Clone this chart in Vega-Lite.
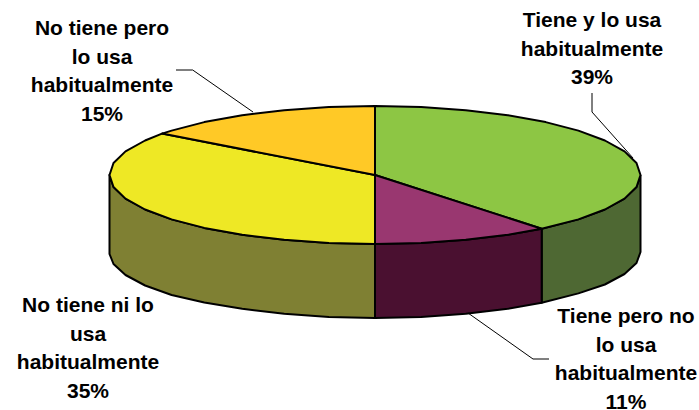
{"$schema":"https://vega.github.io/schema/vega-lite/v6.json","width":699,"height":410,"padding":0,"autosize":{"type":"none"},"background":"white","view":{"stroke":null},
"layer":[
{"data":{"values":[
{"p":"Pared verde","i":0,"x":640.5,"y":175},{"p":"Pared verde","i":1,"x":636.5,"y":187},{"p":"Pared verde","i":2,"x":624.5,"y":198.6},{"p":"Pared verde","i":3,"x":604.9,"y":209.5},{"p":"Pared verde","i":4,"x":578.4,"y":219.4},{"p":"Pared verde","i":5,"x":541.7,"y":228.7},{"p":"Pared verde","i":6,"x":541.7,"y":302.7},{"p":"Pared verde","i":7,"x":578.4,"y":293.4},{"p":"Pared verde","i":8,"x":604.9,"y":284.5},{"p":"Pared verde","i":9,"x":624.5,"y":274},{"p":"Pared verde","i":10,"x":636.5,"y":263},{"p":"Pared verde","i":11,"x":640.5,"y":252},{"p":"Pared verde","i":12,"x":640.5,"y":175},
{"p":"Pared morada","i":0,"x":541.7,"y":228.7},{"p":"Pared morada","i":1,"x":507.8,"y":234.8},{"p":"Pared morada","i":2,"x":465.8,"y":239.8},{"p":"Pared morada","i":3,"x":421.1,"y":243},{"p":"Pared morada","i":4,"x":375,"y":244},{"p":"Pared morada","i":5,"x":375,"y":318},{"p":"Pared morada","i":6,"x":421.1,"y":317},{"p":"Pared morada","i":7,"x":465.8,"y":313.8},{"p":"Pared morada","i":8,"x":507.8,"y":308.8},{"p":"Pared morada","i":9,"x":541.7,"y":302.7},{"p":"Pared morada","i":10,"x":541.7,"y":228.7},
{"p":"Pared oliva","i":0,"x":375,"y":244},{"p":"Pared oliva","i":1,"x":328.9,"y":243},{"p":"Pared oliva","i":2,"x":284.2,"y":239.8},{"p":"Pared oliva","i":3,"x":242.2,"y":234.8},{"p":"Pared oliva","i":4,"x":204.3,"y":227.9},{"p":"Pared oliva","i":5,"x":171.6,"y":219.4},{"p":"Pared oliva","i":6,"x":145.1,"y":209.5},{"p":"Pared oliva","i":7,"x":125.5,"y":198.6},{"p":"Pared oliva","i":8,"x":113.5,"y":187},{"p":"Pared oliva","i":9,"x":109.5,"y":175},{"p":"Pared oliva","i":10,"x":109.5,"y":254},{"p":"Pared oliva","i":11,"x":113.5,"y":264},{"p":"Pared oliva","i":12,"x":125.5,"y":275},{"p":"Pared oliva","i":13,"x":145.1,"y":285.5},{"p":"Pared oliva","i":14,"x":171.6,"y":295},{"p":"Pared oliva","i":15,"x":204.3,"y":302.5},{"p":"Pared oliva","i":16,"x":242.2,"y":308.8},{"p":"Pared oliva","i":17,"x":284.2,"y":313.8},{"p":"Pared oliva","i":18,"x":328.9,"y":317},{"p":"Pared oliva","i":19,"x":375,"y":318},{"p":"Pared oliva","i":20,"x":375,"y":244},
{"p":"Tiene y lo usa habitualmente","i":0,"x":375,"y":175},{"p":"Tiene y lo usa habitualmente","i":1,"x":375,"y":106},{"p":"Tiene y lo usa habitualmente","i":2,"x":421.1,"y":107},{"p":"Tiene y lo usa habitualmente","i":3,"x":465.8,"y":110.2},{"p":"Tiene y lo usa habitualmente","i":4,"x":507.8,"y":115.2},{"p":"Tiene y lo usa habitualmente","i":5,"x":545.7,"y":122.1},{"p":"Tiene y lo usa habitualmente","i":6,"x":578.4,"y":130.6},{"p":"Tiene y lo usa habitualmente","i":7,"x":604.9,"y":140.5},{"p":"Tiene y lo usa habitualmente","i":8,"x":624.5,"y":151.4},{"p":"Tiene y lo usa habitualmente","i":9,"x":636.5,"y":163},{"p":"Tiene y lo usa habitualmente","i":10,"x":640.5,"y":175},{"p":"Tiene y lo usa habitualmente","i":11,"x":636.5,"y":187},{"p":"Tiene y lo usa habitualmente","i":12,"x":624.5,"y":198.6},{"p":"Tiene y lo usa habitualmente","i":13,"x":604.9,"y":209.5},{"p":"Tiene y lo usa habitualmente","i":14,"x":578.4,"y":219.4},{"p":"Tiene y lo usa habitualmente","i":15,"x":541.7,"y":228.7},{"p":"Tiene y lo usa habitualmente","i":16,"x":375,"y":175},
{"p":"Tiene pero no lo usa habitualmente","i":0,"x":375,"y":175},{"p":"Tiene pero no lo usa habitualmente","i":1,"x":541.7,"y":228.7},{"p":"Tiene pero no lo usa habitualmente","i":2,"x":507.8,"y":234.8},{"p":"Tiene pero no lo usa habitualmente","i":3,"x":465.8,"y":239.8},{"p":"Tiene pero no lo usa habitualmente","i":4,"x":421.1,"y":243},{"p":"Tiene pero no lo usa habitualmente","i":5,"x":375,"y":244},{"p":"Tiene pero no lo usa habitualmente","i":6,"x":375,"y":175},
{"p":"No tiene ni lo usa habitualmente","i":0,"x":375,"y":175},{"p":"No tiene ni lo usa habitualmente","i":1,"x":375,"y":244},{"p":"No tiene ni lo usa habitualmente","i":2,"x":328.9,"y":243},{"p":"No tiene ni lo usa habitualmente","i":3,"x":284.2,"y":239.8},{"p":"No tiene ni lo usa habitualmente","i":4,"x":242.2,"y":234.8},{"p":"No tiene ni lo usa habitualmente","i":5,"x":204.3,"y":227.9},{"p":"No tiene ni lo usa habitualmente","i":6,"x":171.6,"y":219.4},{"p":"No tiene ni lo usa habitualmente","i":7,"x":145.1,"y":209.5},{"p":"No tiene ni lo usa habitualmente","i":8,"x":125.5,"y":198.6},{"p":"No tiene ni lo usa habitualmente","i":9,"x":113.5,"y":187},{"p":"No tiene ni lo usa habitualmente","i":10,"x":109.5,"y":175},{"p":"No tiene ni lo usa habitualmente","i":11,"x":113.5,"y":163},{"p":"No tiene ni lo usa habitualmente","i":12,"x":125.5,"y":151.4},{"p":"No tiene ni lo usa habitualmente","i":13,"x":145.1,"y":140.5},{"p":"No tiene ni lo usa habitualmente","i":14,"x":162,"y":133.6},{"p":"No tiene ni lo usa habitualmente","i":15,"x":375,"y":175},
{"p":"No tiene pero lo usa habitualmente","i":0,"x":375,"y":175},{"p":"No tiene pero lo usa habitualmente","i":1,"x":162,"y":133.6},{"p":"No tiene pero lo usa habitualmente","i":2,"x":171.6,"y":130.6},{"p":"No tiene pero lo usa habitualmente","i":3,"x":204.3,"y":122.1},{"p":"No tiene pero lo usa habitualmente","i":4,"x":242.2,"y":115.2},{"p":"No tiene pero lo usa habitualmente","i":5,"x":284.2,"y":110.2},{"p":"No tiene pero lo usa habitualmente","i":6,"x":328.9,"y":107},{"p":"No tiene pero lo usa habitualmente","i":7,"x":375,"y":106},{"p":"No tiene pero lo usa habitualmente","i":8,"x":375,"y":175}
]},
"mark":{"type":"line","stroke":"black","strokeWidth":2,"strokeJoin":"round"},
"encoding":{
"x":{"field":"x","type":"quantitative","scale":{"domain":[0,699],"nice":false,"zero":false},"axis":null},
"y":{"field":"y","type":"quantitative","scale":{"domain":[410,0],"nice":false,"zero":false},"axis":null},
"order":{"field":"i","type":"quantitative"},
"fill":{"field":"p","type":"nominal","legend":null,"scale":{"domain":["Pared verde","Pared morada","Pared oliva","Tiene y lo usa habitualmente","Tiene pero no lo usa habitualmente","No tiene ni lo usa habitualmente","No tiene pero lo usa habitualmente"],"range":["#4E6833","#4A1030","#7F8033","#8DC644","#993770","#EEE825","#FFC926"]}}
}},
{"data":{"values":[
{"g":"a","i":0,"x":176,"y":70},{"g":"a","i":1,"x":192.7,"y":70},{"g":"a","i":2,"x":253,"y":112},
{"g":"b","i":0,"x":592,"y":93},{"g":"b","i":1,"x":592,"y":112},{"g":"b","i":2,"x":633,"y":158},
{"g":"c","i":0,"x":468,"y":313},{"g":"c","i":1,"x":533,"y":359},{"g":"c","i":2,"x":549,"y":359}
]},
"mark":{"type":"line","stroke":"black","strokeWidth":1},
"encoding":{
"x":{"field":"x","type":"quantitative","scale":{"domain":[0,699],"nice":false,"zero":false},"axis":null},
"y":{"field":"y","type":"quantitative","scale":{"domain":[410,0],"nice":false,"zero":false},"axis":null},
"order":{"field":"i","type":"quantitative"},
"detail":{"field":"g"}
}},
{"data":{"values":[
{"t":"No tiene pero\nlo usa\nhabitualmente\n15%","x":102,"y":35},
{"t":"Tiene y lo usa\nhabitualmente\n39%","x":592,"y":27},
{"t":"Tiene pero no\nlo usa\nhabitualmente\n11%","x":626,"y":323},
{"t":"No tiene ni lo\nusa\nhabitualmente\n35%","x":88,"y":312}
]},
"mark":{"type":"text","font":"Liberation Sans","fontWeight":"bold","fontSize":21,"lineBreak":"\n","lineHeight":28.6,"align":"center","baseline":"alphabetic","color":"#000000"},
"encoding":{
"x":{"field":"x","type":"quantitative","scale":{"domain":[0,699],"nice":false,"zero":false},"axis":null},
"y":{"field":"y","type":"quantitative","scale":{"domain":[410,0],"nice":false,"zero":false},"axis":null},
"text":{"field":"t"}
}}
]}
